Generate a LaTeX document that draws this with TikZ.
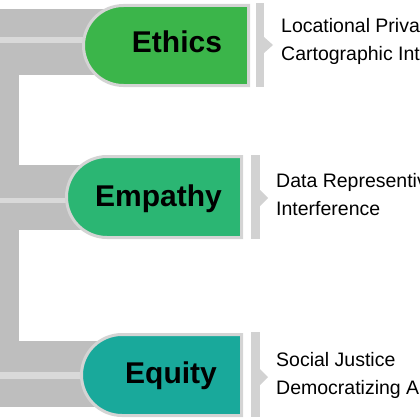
\documentclass[tikz,border=0pt]{standalone}
\usepackage{fontspec}
\setmainfont{Liberation Sans}
\usetikzlibrary{shapes.misc}

\definecolor{bargray}{HTML}{BEBEBE}
\definecolor{stripegray}{HTML}{D9D9D9}
\definecolor{rimgray}{HTML}{D4D4D4}
\definecolor{sepgray}{HTML}{D2D2D2}
\definecolor{ethicsgreen}{HTML}{3BB54A}
\definecolor{empathygreen}{HTML}{2BB673}
\definecolor{equityteal}{HTML}{19A99B}

\tikzset{
  pill/.style={rounded rectangle,rounded rectangle right arc=none,draw=rimgray,line width=3pt,fill=#1,inner sep=0pt},
  title/.style={anchor=base,inner sep=0pt,font=\bfseries\fontsize{30}{30}\selectfont},
  point/.style={anchor=north west,inner sep=0pt,align=left,font=\fontsize{19.5}{28.5}\selectfont},
  sepbar/.style={fill=sepgray}
}

\begin{document}
\begin{tikzpicture}[x=1pt,y=-1pt]
  \useasboundingbox (0,0) rectangle (420,420);
  % grey frame behind the three tags
  \fill[bargray] (0,9.5) rectangle (19,407);
  \fill[bargray] (0,9.5) rectangle (120,75);
  \fill[bargray] (0,165) rectangle (110,230);
  \fill[bargray] (0,341) rectangle (120,407);
  \fill[stripegray] (0,37.3) rectangle (110,43.3);
  \fill[stripegray] (0,198.3) rectangle (100,203.3);
  \fill[stripegray] (0,372) rectangle (110,379);

  % tags
  \node[pill=ethicsgreen,minimum width=165pt,minimum height=80pt] (ethics) at (166,45.5) {};
  \node[pill=empathygreen,minimum width=175pt,minimum height=81pt] (empathy) at (154,197) {};
  \node[pill=equityteal,minimum width=160pt,minimum height=81pt] (equity) at (161.5,375) {};
  \node[title] (ethicslbl) at (177,52.7) {Ethics};
  \node[title] (empathylbl) at (158.5,206) {Empathy};
  \node[title] (equitylbl) at (171,383.3) {Equity};

  % separators with small pointers
  \fill[sepbar] (256,3) rectangle (264,87); \fill[sepbar] (264,37)--(273,45)--(264,53)--cycle;
  \fill[sepbar] (251,155) rectangle (260,239); \fill[sepbar] (260,190)--(268,198)--(260,206)--cycle;
  \fill[sepbar] (251,332) rectangle (260,417); \fill[sepbar] (260,369)--(268,377)--(260,385)--cycle;

  % item lists
  \node[point] (ethicsitems) at (281,18) {Locational Priva\\Cartographic Int};
  \node[point] (empathyitems) at (276,173) {Data Representiv\\Interference};
  \node[point] (equityitems) at (276,352) {Social Justice\\Democratizing A};
\end{tikzpicture}
\end{document}
